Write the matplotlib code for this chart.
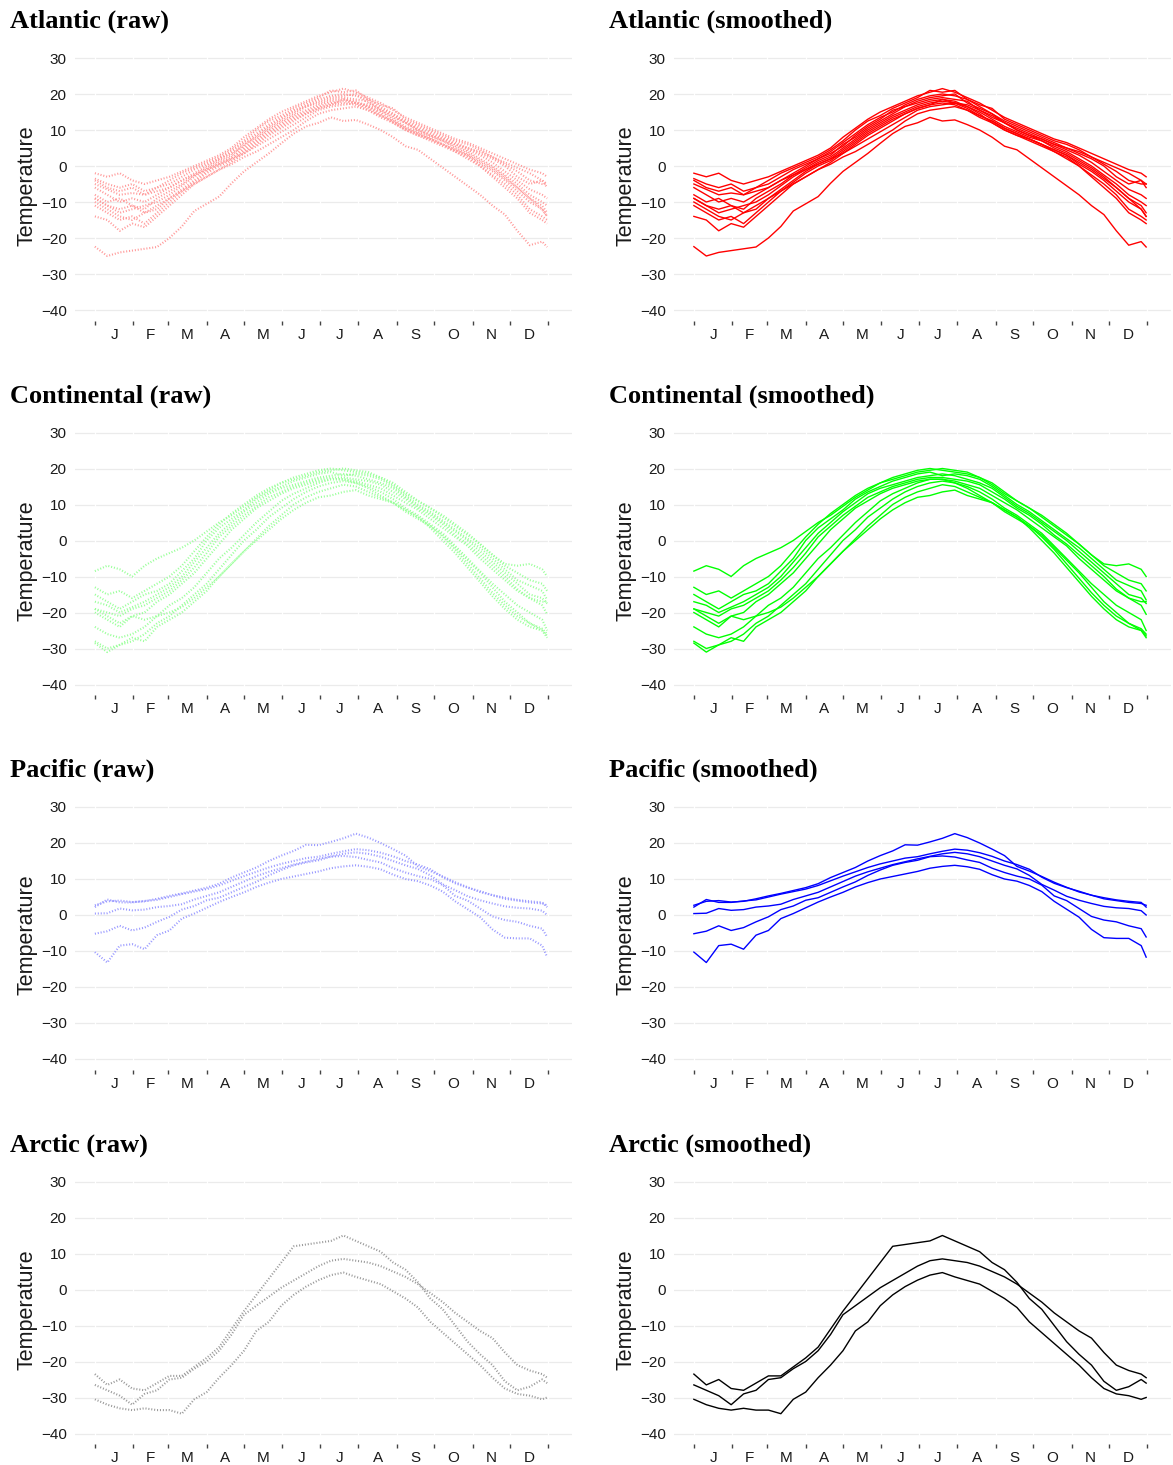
import numpy as np
import matplotlib
matplotlib.use("Agg")
import matplotlib.pyplot as plt

plt.rcParams["font.family"] = ["Liberation Sans", "DejaVu Sans"]

# sample days (every 10 days through the year)
days = list(range(0, 361, 10)) + [364]

month_edges = [0, 31, 59, 90, 120, 151, 181, 212, 243, 273, 304, 334, 365]
month_labels = ["J", "F", "M", "A", "M", "J", "J", "A", "S", "O", "N", "D"]
temp_ticks = [30, 20, 10, 0, -10, -20, -30, -40]

atlantic = [
    [-2, -3, -2, -4, -5, -4, -3, -1.5, 0, 1.5, 3, 5, 8, 10.5, 13, 15, 16.5, 18, 19.5, 20.5,
     21.5, 20.5, 19, 17.5, 15.5, 13.5, 12, 10.5, 9, 7.5, 6.5, 5, 3.5, 2, 0.5, -1, -2, -3],
    [-3.5, -5, -6, -5, -7, -6, -4, -2, -0.5, 1, 2.5, 4.5, 7, 10, 12.5, 14, 16, 17.5, 19, 21,
     20.5, 21, 18.5, 17, 16, 13, 11.5, 10, 8.5, 7, 6, 4.5, 2.5, 0.5, -1.5, -4, -5, -5],
    [-5, -6.5, -8, -7.5, -8, -6, -5, -3, -1, 0.5, 2, 4, 6.5, 9, 11.5, 13.5, 15, 17, 18.5, 19.5,
     20, 19.5, 18.5, 16.5, 14.5, 12.5, 11, 9.5, 8, 6.5, 5, 3.5, 2, 0, -3, -5, -4, -6],
    [-6, -8, -10, -9, -10, -8, -6, -4, -2, 0, 2, 3.5, 5.5, 8.5, 11, 13, 15.5, 16.5, 18, 19,
     19.5, 20, 17.5, 16, 14.5, 12, 10.5, 9, 7.5, 6, 4.5, 3, 1, -1.5, -4, -6.5, -8, -9],
    [-8, -10, -9, -11, -12, -9, -7, -5, -2.5, -0.5, 1.5, 3, 6, 8, 10.5, 12.5, 14.5, 16.5, 17.5, 18.5,
     19, 18.5, 18, 15.5, 13.5, 12, 10, 8.5, 7, 5.5, 4, 2, 0, -2.5, -5, -8, -10, -11],
    [-9, -11, -13, -12, -11, -10, -8, -5.5, -3, -1, 1, 2.5, 5, 7.5, 10, 12, 14, 15.5, 17, 18,
     18.5, 18, 16.5, 15, 13, 11, 9.5, 8, 7, 5, 3.5, 1.5, -0.5, -3, -6, -9, -11, -13],
    [-10, -12, -14, -15, -13, -12, -9, -6.5, -4, -1.5, 0.5, 2, 4.5, 7, 9.5, 11.5, 13.5, 15, 16.5, 17.5,
     18, 17.5, 16, 14, 12.5, 10.5, 9, 7.5, 6, 4.5, 3, 0.5, -1.5, -4, -7, -10, -12, -14],
    [-11, -13, -15, -14, -16, -13, -10, -7, -4.5, -2, 0, 1.5, 4, 6.5, 9, 11, 13, 14.5, 16, 17,
     17.5, 17, 15.5, 13.5, 12, 10, 8.5, 7, 5.5, 4, 2, 0, -2.5, -5, -8, -12, -14, -15],
    [-14, -15, -18, -16, -17, -14, -11, -8, -5, -3, -1, 1, 3.5, 6, 8.5, 10.5, 12.5, 14.5, 16, 17,
     18.5, 17.5, 16.5, 14.5, 12, 10, 8.5, 7.5, 6, 4, 2.5, 0, -3, -6, -9, -13, -15, -16],
    [-9, -11, -12, -11, -13, -11, -9, -7, -5, -3, -1, 0.5, 2.5, 4, 6, 8, 10, 12.5, 14.5, 15.5,
     16, 16.5, 15.5, 14, 12.5, 10.5, 9, 7.5, 6, 4.5, 3, 1, -1, -3.5, -6, -9, -12, -14],
    [-4, -6, -7, -6, -8, -7, -6, -4, -2.5, -1, 0.5, 2, 3.5, 5.5, 7.5, 9.5, 11.5, 13.5, 15.5, 16.5,
     17, 17.5, 17, 15.5, 14, 12, 10, 8.5, 7.5, 6, 5, 4, 2.5, 1, -0.5, -2, -4, -5],
    [-22.4, -25, -24, -23.5, -23, -22.5, -20, -16.8, -12.5, -10.5, -8.5, -4.8, -1.5, 1, 3.5, 6.3, 9, 11, 12, 13.5,
     12.5, 12.8, 11.5, 10, 8, 5.5, 4.5, 2, -0.5, -3, -5.5, -8, -11, -13.5, -18, -22, -21, -22.5],
]

continental = [
    [-8.5, -7, -8, -10, -7, -5, -3.5, -2, 0, 2.5, 5, 7, 9.5, 12, 14, 16, 17.5, 18.5, 19.5, 20,
     19.5, 19, 18.5, 17.5, 15.5, 13, 11, 9, 7, 4.5, 2, -1, -4, -6.5, -7, -6.5, -8, -10],
    [-13, -15, -14, -16, -14, -12, -10, -7, -3, 1, 4.5, 7.5, 10, 12.5, 14.5, 16, 17, 18, 19, 19.5,
     20, 19.5, 19, 17.5, 16, 13.5, 11, 9, 6.5, 4, 1.5, -1, -4, -7, -9, -11, -12, -14],
    [-15, -17, -19, -17, -15, -14, -12, -8.5, -5, 0, 3.5, 6, 8.5, 11.5, 13.5, 15, 16.5, 17.5, 18.5, 19,
     18, 18.5, 18, 17, 15, 12.5, 10, 8, 5.5, 3, 0.5, -2, -5, -8, -11, -12.5, -14, -16.5],
    [-17, -18, -20, -18.5, -17, -15, -13, -10, -6, -2, 2, 5, 8, 10.5, 13, 14.5, 15.5, 16.5, 17.5, 18,
     18.5, 18, 17, 16, 14.5, 12, 9.5, 7.5, 5, 2.5, 0, -3, -6, -9, -12, -15, -16, -17.5],
    [-19, -20, -21, -19, -18, -16, -14, -11, -7.5, -3.5, 1, 4, 7, 9.5, 12, 13.5, 15, 16, 17, 17.5,
     17.5, 17, 16.5, 15.5, 13.5, 11.5, 9, 7, 4.5, 1.5, -1, -4, -7, -10, -13.5, -16, -18, -20.5],
    [-20, -22, -24, -21, -20, -17, -15, -12, -9, -5, -1, 3, 6, 9, 11, 13, 14.5, 15.5, 16.5, 17,
     17, 16.5, 15.5, 14.5, 12.5, 10.5, 8.5, 6, 3.5, 1, -1.5, -5, -8, -11, -14, -16, -17, -17],
    [-24, -26, -27, -26, -24, -21, -18, -16, -13, -9, -5, -2, 1.5, 5, 8, 11, 13, 14.5, 16, 17,
     17, 16, 15, 13.5, 11.5, 9, 7, 4.5, 2, -1.5, -5, -8.5, -12, -15, -18, -20, -22, -25],
    [-28, -30, -29, -28, -26, -23, -21, -18, -15, -12, -8, -4, 0, 3, 6.5, 9, 11.5, 13.5, 15, 16,
     16.5, 16, 14.5, 12.5, 10.5, 8.5, 6.5, 4, 1, -2.5, -6.5, -10.5, -14.5, -18, -21, -23, -25, -26.5],
    [-28.5, -31, -29, -27, -28, -24, -22, -20, -17, -14, -10, -6.5, -3, 0.5, 4, 7, 10, 12, 13.5, 14.5,
     15.5, 15, 13.5, 12, 10.5, 8.5, 6.5, 3.5, 0, -3.5, -7.5, -11.5, -15.5, -19, -22, -24, -25, -27],
    [-19, -21, -23, -21, -22, -21, -20, -18.5, -16, -13, -10, -6.5, -3, 0, 3, 6, 8.5, 10.5, 12, 12.5,
     13.5, 14, 12.5, 11.5, 10.5, 8, 6, 4, 1.5, -2, -5.5, -9, -13, -17, -20, -23, -24.5, -26],
]

pacific = [
    [2.7, 3.8, 4, 3.6, 3.8, 4.5, 5.3, 6, 6.8, 7.6, 8.7, 10.4, 11.8, 13.2, 15, 16.5, 17.8, 19.5, 19.4, 20.3,
     21.3, 22.6, 21.5, 20, 18.3, 16.5, 13.5, 12.2, 10.7, 9.1, 7.7, 6.4, 5.5, 4.8, 4.2, 3.8, 3.5, 2.2],
    [2.2, 4.3, 3.5, 3.5, 3.9, 4.2, 5, 5.8, 6.5, 7.2, 8.2, 9.5, 10.8, 12, 13.2, 14.2, 15, 15.8, 16.2, 17,
     17.7, 18.3, 18, 17.3, 16.3, 15, 14, 12.7, 10.5, 8.8, 7.6, 6.6, 5.5, 4.5, 4, 3.5, 3.2, 2.7],
    [0.4, 0.5, 1.8, 1.3, 1.5, 2.2, 2.5, 3, 4.3, 5.3, 6.3, 7.8, 9.3, 10.8, 12, 13, 14, 14.8, 15.6, 16.3,
     17, 17.4, 17, 16.2, 15, 13.8, 12.8, 11, 8.5, 6.9, 5.2, 4.1, 3.2, 2.4, 2, 1.8, 1.2, 0],
    [-5.2, -4.5, -3, -4.3, -3.5, -1.9, -0.5, 1.5, 2.5, 4.1, 4.8, 6.3, 7.8, 9.2, 11, 12.5, 13.8, 14.6, 15.2, 16.2,
     16.4, 16.1, 15.3, 14.6, 13, 11.8, 10.8, 10, 8.3, 5.3, 4, 1.8, -0.4, -1.4, -1.9, -3, -3.8, -6.1],
    [-10.3, -13.2, -8.5, -8.1, -9.5, -5.6, -4.3, -1, 0.4, 2, 3.6, 5, 6.3, 7.8, 9, 10, 10.7, 11.4, 12.1, 13,
     13.5, 13.8, 13.4, 12.7, 11.2, 10, 9.4, 8.2, 6.5, 3.8, 1.6, -0.6, -4, -6.3, -6.5, -6.5, -8.5, -11.7],
]

arctic = [
    [-23.5, -26.5, -25, -27.5, -28, -26, -24, -24, -21.5, -19, -16, -11, -6, -1.5, 3, 7.5, 12, 12.5, 13, 13.5,
     15, 13.5, 12, 10.5, 7.5, 5.5, 2, -2.5, -5.5, -10, -14.5, -18, -21, -25.5, -28, -27, -25, -26],
    [-26.5, -28, -29.5, -32, -29, -28, -25, -24.5, -22, -20, -17, -12.5, -7, -4.5, -2, 0.5, 2.5, 4.5, 6.5, 8,
     8.5, 8, 7.5, 6.5, 5, 3.5, 1.5, -1, -3.5, -6.5, -9, -11.5, -13.5, -17.5, -21, -22.5, -23.5, -24.5],
    [-30.5, -32, -33, -33.5, -33, -33.5, -33.5, -34.5, -30.5, -28.5, -24.5, -21, -17, -11.5, -9, -4.5, -1.5, 0.8, 2.6, 4,
     4.7, 3.5, 2.5, 1.5, -0.5, -2.5, -5, -9, -12, -15, -18, -21, -24.5, -27.5, -29, -29.5, -30.5, -30],
]

regions = [
    ("Atlantic", atlantic, "#ff9999", "#ff0000"),
    ("Continental", continental, "#99ff99", "#00ff00"),
    ("Pacific", pacific, "#9999ff", "#0000ff"),
    ("Arctic", arctic, "#999999", "#000000"),
]

W, H = 1173, 1465
fig = plt.figure(figsize=(W / 100, H / 100), dpi=100)

month_mids = [(a + b) / 2 for a, b in zip(month_edges[:-1], month_edges[1:])]

for row, (name, series, raw_color, line_color) in enumerate(regions):
    top = 50.8 + 374.5 * row
    bottom = 320.8 + 374.5 * row
    for col, kind in enumerate(["raw", "smoothed"]):
        left = 75 + 599 * col
        ax = fig.add_axes([left / W, 1 - bottom / H, 497 / W, (bottom - top) / H])

        for t in temp_ticks:
            ax.axhline(t, color="#ebebeb", lw=0.9, zorder=0)
        for e in month_edges:
            ax.axvline(e, color="white", lw=0.9, zorder=0.5)

        for s in series:
            if kind == "raw":
                # daily readings shown as a trail of small dots
                ax.plot(days, s, color=raw_color, lw=1.5, ls=(0, (0.5, 0.9)), zorder=2)
            else:
                ax.plot(days, s, color=line_color, lw=1.0, zorder=2)

        ax.set_xlim(-16, 384)
        ax.set_ylim(-43, 32)
        for sp in ax.spines.values():
            sp.set_visible(False)

        ax.set_yticks(temp_ticks)
        ax.tick_params(axis="y", length=0, pad=6, labelsize=11, labelcolor="#1a1a1a")
        ax.set_xticks(month_mids)
        ax.set_xticklabels(month_labels)
        ax.set_xticks(month_edges, minor=True)
        ax.tick_params(axis="x", which="major", length=0, pad=5, labelsize=11, labelcolor="#1a1a1a")
        ax.tick_params(axis="x", which="minor", length=3, width=1, color="#444444")

        ax.set_ylabel("Temperature", fontsize=15.5, color="#1a1a1a")
        ax.yaxis.set_label_coords(-0.075, 0.5)

        fig.text((10 + 599 * col) / W, 1 - (28 + 374.5 * row) / H, f"{name} ({kind})",
                 family="Liberation Serif", fontweight="bold", fontsize=19,
                 va="baseline", ha="left")

fig.savefig("out.png", dpi=100)
